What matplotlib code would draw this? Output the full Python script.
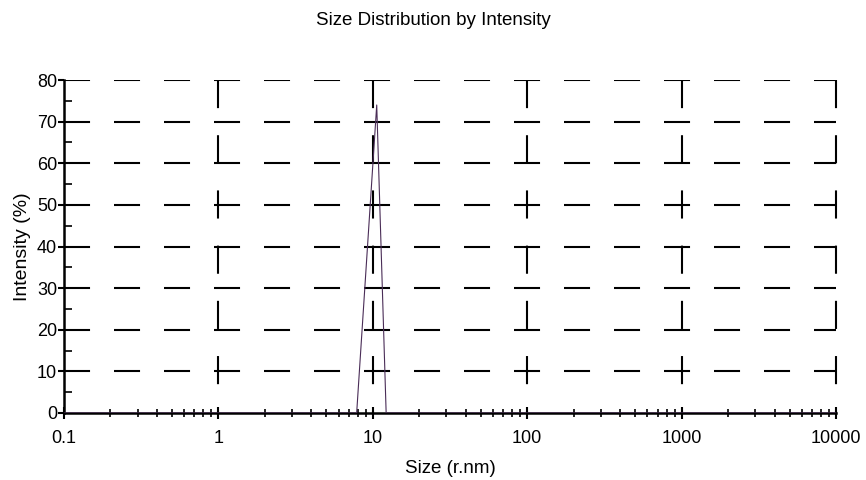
import numpy as np
import matplotlib
matplotlib.use("Agg")
import matplotlib.pyplot as plt
from matplotlib.ticker import LogLocator, FixedLocator, NullFormatter

plt.rcParams["font.family"] = ["Liberation Sans", "DejaVu Sans"]

# size distribution
size_nm = [0.1, 7.86, 10.6, 12.2, 10000]
intensity = [0, 0, 74, 0, 0]

x_ticks = [0.1, 1, 10, 100, 1000, 10000]
x_labels = ["0.1", "1", "10", "100", "1000", "10000"]
y_ticks = [0, 10, 20, 30, 40, 50, 60, 70, 80]

fig = plt.figure(figsize=(8.66, 4.8), dpi=100)
ax = fig.add_axes([0.0739, 0.1396, 0.8915, 0.6937])

ax.set_xscale("log")
ax.set_xlim(0.1, 10000)
ax.set_ylim(0, 80)

# dashed grid, drawn by hand so dashes start at the left / top edges
for y in y_ticks[1:]:
    ax.plot([0.1, 10000], [y, y], color="black", lw=1.5,
            linestyle=(0, (12.5, 11.5)), zorder=1, solid_capstyle="butt")
for x in x_ticks[1:]:
    ax.plot([x, x], [80, 0], color="black", lw=1.5,
            linestyle=(0, (13.5, 13.0)), zorder=1, solid_capstyle="butt",
            clip_on=False)

ax.plot(size_nm, intensity, color="#4a2d57", lw=0.8, zorder=3)

ax.set_xticks(x_ticks)
ax.set_xticklabels(x_labels)
ax.xaxis.set_minor_locator(LogLocator(base=10, subs=np.arange(2, 10)))
ax.xaxis.set_minor_formatter(NullFormatter())
ax.set_yticks(y_ticks)
ax.yaxis.set_minor_locator(FixedLocator(np.arange(5, 80, 10)))

ax.tick_params(axis="x", which="major", direction="inout", length=9, width=1.5,
               labelsize=13, pad=8)
ax.tick_params(axis="x", which="minor", direction="inout", length=6, width=1.2)
ax.tick_params(axis="y", which="major", direction="out", length=4, width=1.5,
               labelsize=13, pad=1)
ax.tick_params(axis="y", which="minor", direction="in", length=6, width=1.2)

for side in ["top", "right"]:
    ax.spines[side].set_visible(False)
for side in ["left", "bottom"]:
    ax.spines[side].set_linewidth(1.8)
    ax.spines[side].set_zorder(2)

ax.set_xlabel("Size (r.nm)", fontsize=13.5, labelpad=9)
ax.set_ylabel("Intensity (%)", fontsize=14, labelpad=4)
fig.suptitle("Size Distribution by Intensity", fontsize=13.5, y=0.975)

fig.savefig("out.png", dpi=100)
